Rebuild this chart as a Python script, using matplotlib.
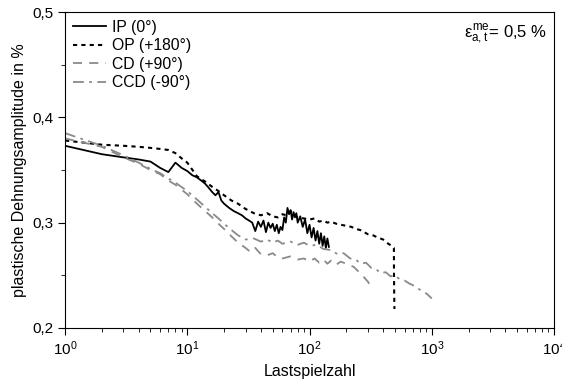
import matplotlib
matplotlib.use("Agg")
import matplotlib.pyplot as plt
from matplotlib.ticker import MultipleLocator, FuncFormatter, LogLocator

plt.rcParams['font.family'] = ['Liberation Sans', 'DejaVu Sans']
plt.rcParams['mathtext.fontset'] = 'custom'
plt.rcParams['mathtext.rm'] = 'Liberation Sans'
plt.rcParams['mathtext.it'] = 'Liberation Sans'
plt.rcParams['mathtext.bf'] = 'Liberation Sans:bold'

# IP (0 deg)
ip_n = [1, 2, 3, 4, 5, 6, 7, 8, 9, 10, 11, 12, 13, 14, 15, 16, 17, 18, 19, 20,
        22, 24, 26, 28, 30, 32, 34, 36, 38, 40, 42, 44, 46, 48, 50, 52, 54, 56, 58, 60,
        62, 64, 66, 68, 70, 72, 74, 76, 78, 80, 84, 88, 92, 96, 100, 104, 108, 112, 116, 120,
        124, 128, 132, 136, 140, 144]
ip_v = [0.373, 0.365, 0.362, 0.360, 0.358, 0.352, 0.348, 0.357, 0.352, 0.349, 0.345, 0.343, 0.340, 0.337, 0.333, 0.329, 0.326, 0.329, 0.321, 0.318,
        0.314, 0.311, 0.309, 0.307, 0.304, 0.302, 0.300, 0.292, 0.301, 0.296, 0.302, 0.291, 0.300, 0.295, 0.299, 0.292, 0.298, 0.290, 0.296, 0.293,
        0.305, 0.300, 0.314, 0.308, 0.312, 0.303, 0.310, 0.305, 0.309, 0.300, 0.306, 0.296, 0.303, 0.290, 0.298, 0.286, 0.295, 0.283, 0.292, 0.280,
        0.290, 0.278, 0.287, 0.276, 0.285, 0.277]

# OP (+180 deg)
op_n = [1, 2, 3, 4, 5, 6, 7, 8, 9, 10, 12, 14, 16, 18, 20, 23, 26, 30, 35, 40,
        45, 50, 55, 60, 65, 70, 75, 80, 90, 100, 110, 120, 130, 140, 150, 165, 180, 200, 220, 240,
        260, 280, 300, 330, 360, 400, 440, 470, 490, 491, 493, 495]
op_v = [0.378, 0.374, 0.373, 0.372, 0.371, 0.370, 0.369, 0.366, 0.361, 0.357, 0.344, 0.339, 0.334, 0.330, 0.326, 0.321, 0.318, 0.313, 0.309, 0.307,
        0.309, 0.306, 0.305, 0.308, 0.307, 0.311, 0.308, 0.305, 0.304, 0.303, 0.304, 0.301, 0.302, 0.300, 0.301, 0.299, 0.298, 0.297, 0.296, 0.294,
        0.293, 0.291, 0.289, 0.288, 0.286, 0.284, 0.280, 0.278, 0.276, 0.250, 0.230, 0.218]

# CD (+90 deg)
cd_n = [1, 2, 3, 4, 5, 6, 7, 8, 10, 12, 14, 16, 18, 20, 23, 26, 30, 33, 36, 40,
        45, 50, 55, 60, 70, 80, 90, 100, 110, 120, 130, 140, 150, 165, 180, 200, 230, 260, 280, 300,
        315]
cd_v = [0.380, 0.372, 0.362, 0.356, 0.350, 0.346, 0.340, 0.336, 0.327, 0.318, 0.311, 0.305, 0.299, 0.294, 0.287, 0.281, 0.276, 0.272, 0.276, 0.270,
        0.269, 0.271, 0.267, 0.266, 0.268, 0.265, 0.266, 0.263, 0.266, 0.262, 0.265, 0.261, 0.264, 0.260, 0.263, 0.261, 0.258, 0.252, 0.248, 0.244,
        0.240]

# CCD (-90 deg)
ccd_n = [1, 2, 3, 4, 5, 6, 7, 8, 10, 12, 14, 16, 18, 20, 23, 26, 30, 35, 40, 45,
         50, 55, 60, 70, 80, 90, 100, 115, 130, 150, 170, 190, 215, 240, 260, 290, 320, 350, 380, 420,
         460, 500, 550, 600, 660, 720, 780, 850, 920, 1000]
ccd_v = [0.385, 0.373, 0.364, 0.357, 0.351, 0.347, 0.342, 0.338, 0.330, 0.322, 0.315, 0.309, 0.304, 0.299, 0.293, 0.288, 0.284, 0.285, 0.282, 0.284,
         0.281, 0.283, 0.280, 0.282, 0.279, 0.281, 0.278, 0.279, 0.275, 0.274, 0.270, 0.271, 0.266, 0.265, 0.261, 0.262, 0.257, 0.256, 0.252, 0.253,
         0.249, 0.250, 0.246, 0.245, 0.242, 0.240, 0.237, 0.235, 0.232, 0.228]

fig = plt.figure(figsize=(5.62, 3.86), dpi=100)
ax = fig.add_axes([0.1157, 0.1503, 0.8701, 0.8186])

ax.plot(ip_n, ip_v, color='black', lw=1.3, ls='-', label='IP (0°)')
ax.plot(op_n, op_v, color='black', lw=1.5, ls=(0, (2, 2)), label='OP (+180°)')
ax.plot(cd_n, cd_v, color='#8a8a8a', lw=1.3, ls=(0, (5, 4)), label='CD (+90°)')
ax.plot(ccd_n, ccd_v, color='#8a8a8a', lw=1.3, ls=(0, (6, 3, 1.5, 3)), label='CCD (-90°)')

ax.set_xscale('log')
ax.set_xlim(1, 1e4)
ax.set_ylim(0.2, 0.5)
ax.yaxis.set_major_locator(MultipleLocator(0.1))
ax.yaxis.set_minor_locator(MultipleLocator(0.05))
ax.yaxis.set_major_formatter(FuncFormatter(lambda v, p: f"{v:.1f}".replace('.', ',')))
ax.xaxis.set_major_locator(LogLocator(base=10, numticks=10))
ax.tick_params(which='both', direction='out', top=False, right=False, labelsize=11)
ax.tick_params(which='major', length=5)
ax.tick_params(which='minor', length=3)

ax.set_xlabel('Lastspielzahl', fontsize=11.5)
ax.set_ylabel('plastische Dehnungsamplitude in %', fontsize=11.5)

ax.legend(loc='upper left', frameon=False, fontsize=11.3, handlelength=2.1,
          handletextpad=0.4, labelspacing=0.22, borderaxespad=0.1)
ax.text(0.985, 0.965, r'$\varepsilon^{\mathrm{me}}_{\mathrm{a,t}}$= 0,5 %', transform=ax.transAxes,
        ha='right', va='top', fontsize=12)

fig.savefig('out.png', dpi=100)
